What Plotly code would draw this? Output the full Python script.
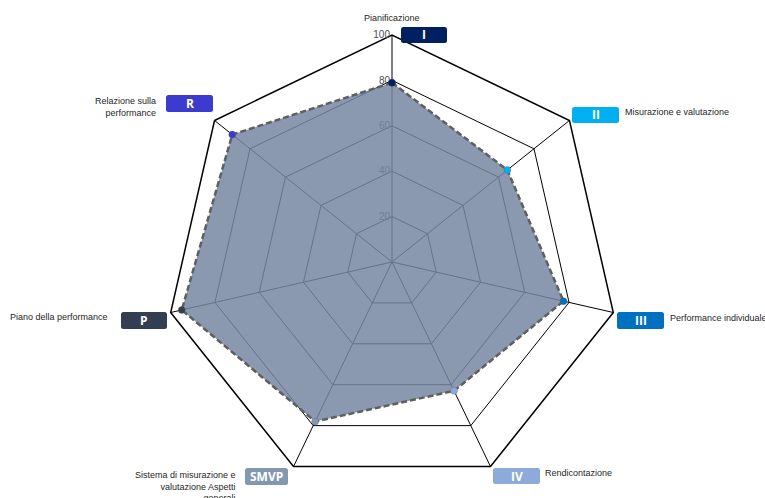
import plotly.graph_objects as go

# ---- data ----
categories = [
    "Pianificazione",
    "Misurazione e valutazione",
    "Performance individuale",
    "Rendicontazione",
    "Sistema di misurazione e valutazione Aspetti generali",
    "Piano della performance",
    "Relazione sulla performance",
]
values = [79, 65, 77.5, 63, 78, 95, 90]
codes = ["I", "II", "III", "IV", "SMVP", "P", "R"]
code_colors = ["#002060", "#00b0f0", "#0070c0", "#8eaadb", "#8497b0", "#333f50", "#3b3bd0"]
tick_vals = [20, 40, 60, 80, 100]
tick_text = ["20", "40", "60", "80", "100"]

W, H = 765, 498
CX, CY, R = 392, 262, 227

fig = go.Figure()
fig.add_trace(go.Scatterpolar(
    r=values + values[:1],
    theta=categories + categories[:1],
    mode="lines+markers",
    fill="toself",
    fillcolor="rgba(117,134,162,0.85)",
    line=dict(color="#5f5f5f", width=2.5, dash="6px,3px"),
    marker=dict(size=7, color=code_colors + code_colors[:1],
                line=dict(color="rgba(90,90,90,0.6)", width=0.5)),
    hoverinfo="skip",
    showlegend=False,
))

def px(x):
    return x / W

def py(y):
    return 1 - y / H

# label layout (pixel positions of text and boxes)
label_layout = [
    dict(tx=392, ty=18, xa="center", al="center", bx=401, by=27, bw=46, bh=16),
    dict(tx=623, ty=112, xa="left", al="left", bx=572, by=107, bw=47, bh=16),
    dict(tx=668, ty=318, xa="left", al="left", bx=617, by=312, bw=47, bh=17),
    dict(tx=543, ty=473, xa="left", al="left", bx=493, by=468, bw=47, bh=16),
    dict(tx=238, ty=468, xa="right", al="right", bx=245, by=468, bw=43, bh=17),
    dict(tx=110, ty=317, xa="right", al="right", bx=121, by=312, bw=46, bh=17),
    dict(tx=158, ty=94, xa="right", al="right", bx=166, by=95, bw=47, bh=17),
]
label_text = [
    "Pianificazione",
    "Misurazione e valutazione",
    "Performance individuale",
    "Rendicontazione",
    "Sistema di misurazione e<br>valutazione Aspetti<br>generali",
    "Piano della performance",
    "Relazione sulla<br>performance",
]

annotations = []
shapes = []
for i, L in enumerate(label_layout):
    multi = "<br>" in label_text[i]
    annotations.append(dict(
        x=px(L["tx"]), y=py(L["ty"]), xref="paper", yref="paper",
        xanchor=L["xa"], yanchor="top" if multi else "middle",
        align=L["al"], showarrow=False, text=label_text[i],
        font=dict(family="Liberation Sans", size=9, color="#262626"),
    ))
    x0, y0 = L["bx"], L["by"]
    x1, y1 = x0 + L["bw"], y0 + L["bh"]
    rr = 2.5
    path = (f"M {px(x0+rr)} {py(y0)} L {px(x1-rr)} {py(y0)} "
            f"Q {px(x1)} {py(y0)} {px(x1)} {py(y0+rr)} L {px(x1)} {py(y1-rr)} "
            f"Q {px(x1)} {py(y1)} {px(x1-rr)} {py(y1)} L {px(x0+rr)} {py(y1)} "
            f"Q {px(x0)} {py(y1)} {px(x0)} {py(y1-rr)} L {px(x0)} {py(y0+rr)} "
            f"Q {px(x0)} {py(y0)} {px(x0+rr)} {py(y0)} Z")
    shapes.append(dict(type="path", path=path, xref="paper", yref="paper",
                       fillcolor=code_colors[i], line=dict(width=0), layer="above"))
    annotations.append(dict(
        x=px((x0 + x1) / 2), y=py((y0 + y1) / 2), xref="paper", yref="paper",
        xanchor="center", yanchor="middle", showarrow=False, text=f"<b>{codes[i]}</b>",
        font=dict(family="Open Sans", size=12, color="white"),
    ))

fig.update_layout(
    width=W, height=H,
    margin=dict(l=0, r=0, t=0, b=0),
    paper_bgcolor="white",
    plot_bgcolor="white",
    showlegend=False,
    polar=dict(
        domain=dict(x=[(CX - R) / W, (CX + R) / W], y=[(H - CY - R) / H, (H - CY + R) / H]),
        bgcolor="white",
        gridshape="linear",
        radialaxis=dict(
            range=[0, 100], tickvals=tick_vals, ticktext=tick_text,
            angle=90, side="counterclockwise", tickangle=90,
            showline=False, ticks="", layer="below traces",
            gridcolor="black", gridwidth=1,
            tickfont=dict(family="Liberation Sans", size=10, color="#4d4d4d"),
        ),
        angularaxis=dict(
            direction="clockwise", rotation=90,
            showticklabels=False, ticks="",
            showline=True, linecolor="black", linewidth=1.5,
            gridcolor="black", gridwidth=1.2, layer="below traces",
        ),
    ),
    annotations=annotations,
    shapes=shapes,
)

fig.write_html("out.html")
